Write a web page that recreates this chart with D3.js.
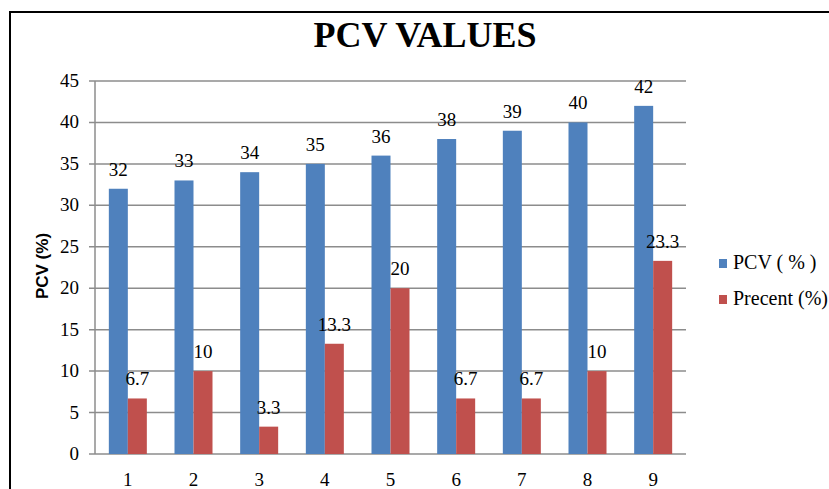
<!DOCTYPE html>
<html>
<head>
<meta charset="utf-8">
<script src="https://cdn.jsdelivr.net/npm/d3@7"></script>
<style>
  body { margin: 0; background: #fff; }
  svg { display: block; }
</style>
</head>
<body>
<div id="chart"></div>
<script>
// values
var categories = ["1", "2", "3", "4", "5", "6", "7", "8", "9"];
var pcv = [32, 33, 34, 35, 36, 38, 39, 40, 42];
var precent = [6.7, 10, 3.3, 13.3, 20, 6.7, 6.7, 10, 23.3];
var seriesNames = ["PCV ( % )", "Precent (%)"];
var yTicks = [0, 5, 10, 15, 20, 25, 30, 35, 40, 45];

var width = 829, height = 489;
var colors = ["#4F81BD", "#C0504D"];
var serif = "'Liberation Serif', 'Times New Roman', serif";

var svg = d3.select("#chart").append("svg")
    .attr("width", width)
    .attr("height", height);

// frame
svg.append("path")
    .attr("d", "M10,489V12H829")
    .attr("fill", "none")
    .attr("stroke", "#000")
    .attr("stroke-width", 2);

var x = d3.scaleBand().domain(categories).range([95, 686]);
var y = d3.scaleLinear().domain([0, 45]).range([454, 81]);
var groupW = 38;
var x1 = d3.scaleBand().domain(seriesNames).range([0, groupW]);

// grid lines
svg.append("g").selectAll("line")
    .data(yTicks)
    .enter().append("line")
    .attr("x1", 89).attr("x2", 686)
    .attr("y1", function (d) { return y(d); })
    .attr("y2", function (d) { return y(d); })
    .attr("stroke", "#8c8c8c")
    .attr("stroke-width", 1.5);

// y axis line
svg.append("line")
    .attr("x1", 95).attr("x2", 95)
    .attr("y1", y(45)).attr("y2", y(0))
    .attr("stroke", "#8c8c8c")
    .attr("stroke-width", 1.5);

// y tick labels
svg.append("g").selectAll("text")
    .data(yTicks)
    .enter().append("text")
    .attr("x", 79)
    .attr("y", function (d) { return y(d) + 6; })
    .attr("text-anchor", "end")
    .style("font-family", serif)
    .style("font-size", "19px")
    .text(function (d) { return d; });

// x labels
svg.append("g").selectAll("text")
    .data(categories)
    .enter().append("text")
    .attr("x", function (d) { return x(d) + x.bandwidth() / 2; })
    .attr("y", 486)
    .attr("text-anchor", "middle")
    .style("font-family", serif)
    .style("font-size", "19px")
    .text(function (d) { return d; });

var rows = categories.map(function (c, i) {
    return {cat: c, vals: [pcv[i], precent[i]]};
});

var groups = svg.append("g").selectAll("g")
    .data(rows)
    .enter().append("g")
    .attr("transform", function (d) {
        return "translate(" + (x(d.cat) + (x.bandwidth() - groupW) / 2) + ",0)";
    });

groups.selectAll("rect")
    .data(function (d) { return d.vals.map(function (v, k) { return {k: k, v: v}; }); })
    .enter().append("rect")
    .attr("x", function (d) { return x1(seriesNames[d.k]); })
    .attr("width", x1.bandwidth())
    .attr("y", function (d) { return y(d.v); })
    .attr("height", function (d) { return y(0) - y(d.v); })
    .attr("fill", function (d) { return colors[d.k]; });

groups.selectAll("text")
    .data(function (d) { return d.vals.map(function (v, k) { return {k: k, v: v}; }); })
    .enter().append("text")
    .attr("x", function (d) { return x1(seriesNames[d.k]) + x1.bandwidth() / 2; })
    .attr("y", function (d) { return y(d.v) - 13; })
    .attr("text-anchor", "middle")
    .style("font-family", serif)
    .style("font-size", "19px")
    .text(function (d) { return d.v; });

// title
svg.append("text")
    .attr("x", 425)
    .attr("y", 47)
    .attr("text-anchor", "middle")
    .style("font-family", serif)
    .style("font-weight", "bold")
    .style("font-size", "36px")
    .text("PCV VALUES");

// y axis title
svg.append("text")
    .attr("transform", "translate(48,266) rotate(-90)")
    .attr("text-anchor", "middle")
    .style("font-family", "'Liberation Sans', Arial, sans-serif")
    .style("font-weight", "bold")
    .style("font-size", "17px")
    .text("PCV (%)");

// legend
var legend = svg.append("g").selectAll("g")
    .data(seriesNames)
    .enter().append("g")
    .attr("transform", function (d, i) { return "translate(719," + (259 + i * 36) + ")"; });

legend.append("rect")
    .attr("width", 8).attr("height", 9)
    .attr("fill", function (d, i) { return colors[i]; });

legend.append("text")
    .attr("x", 14)
    .attr("y", 10)
    .style("font-family", serif)
    .style("font-size", "20px")
    .text(function (d) { return d; });
</script>
</body>
</html>
